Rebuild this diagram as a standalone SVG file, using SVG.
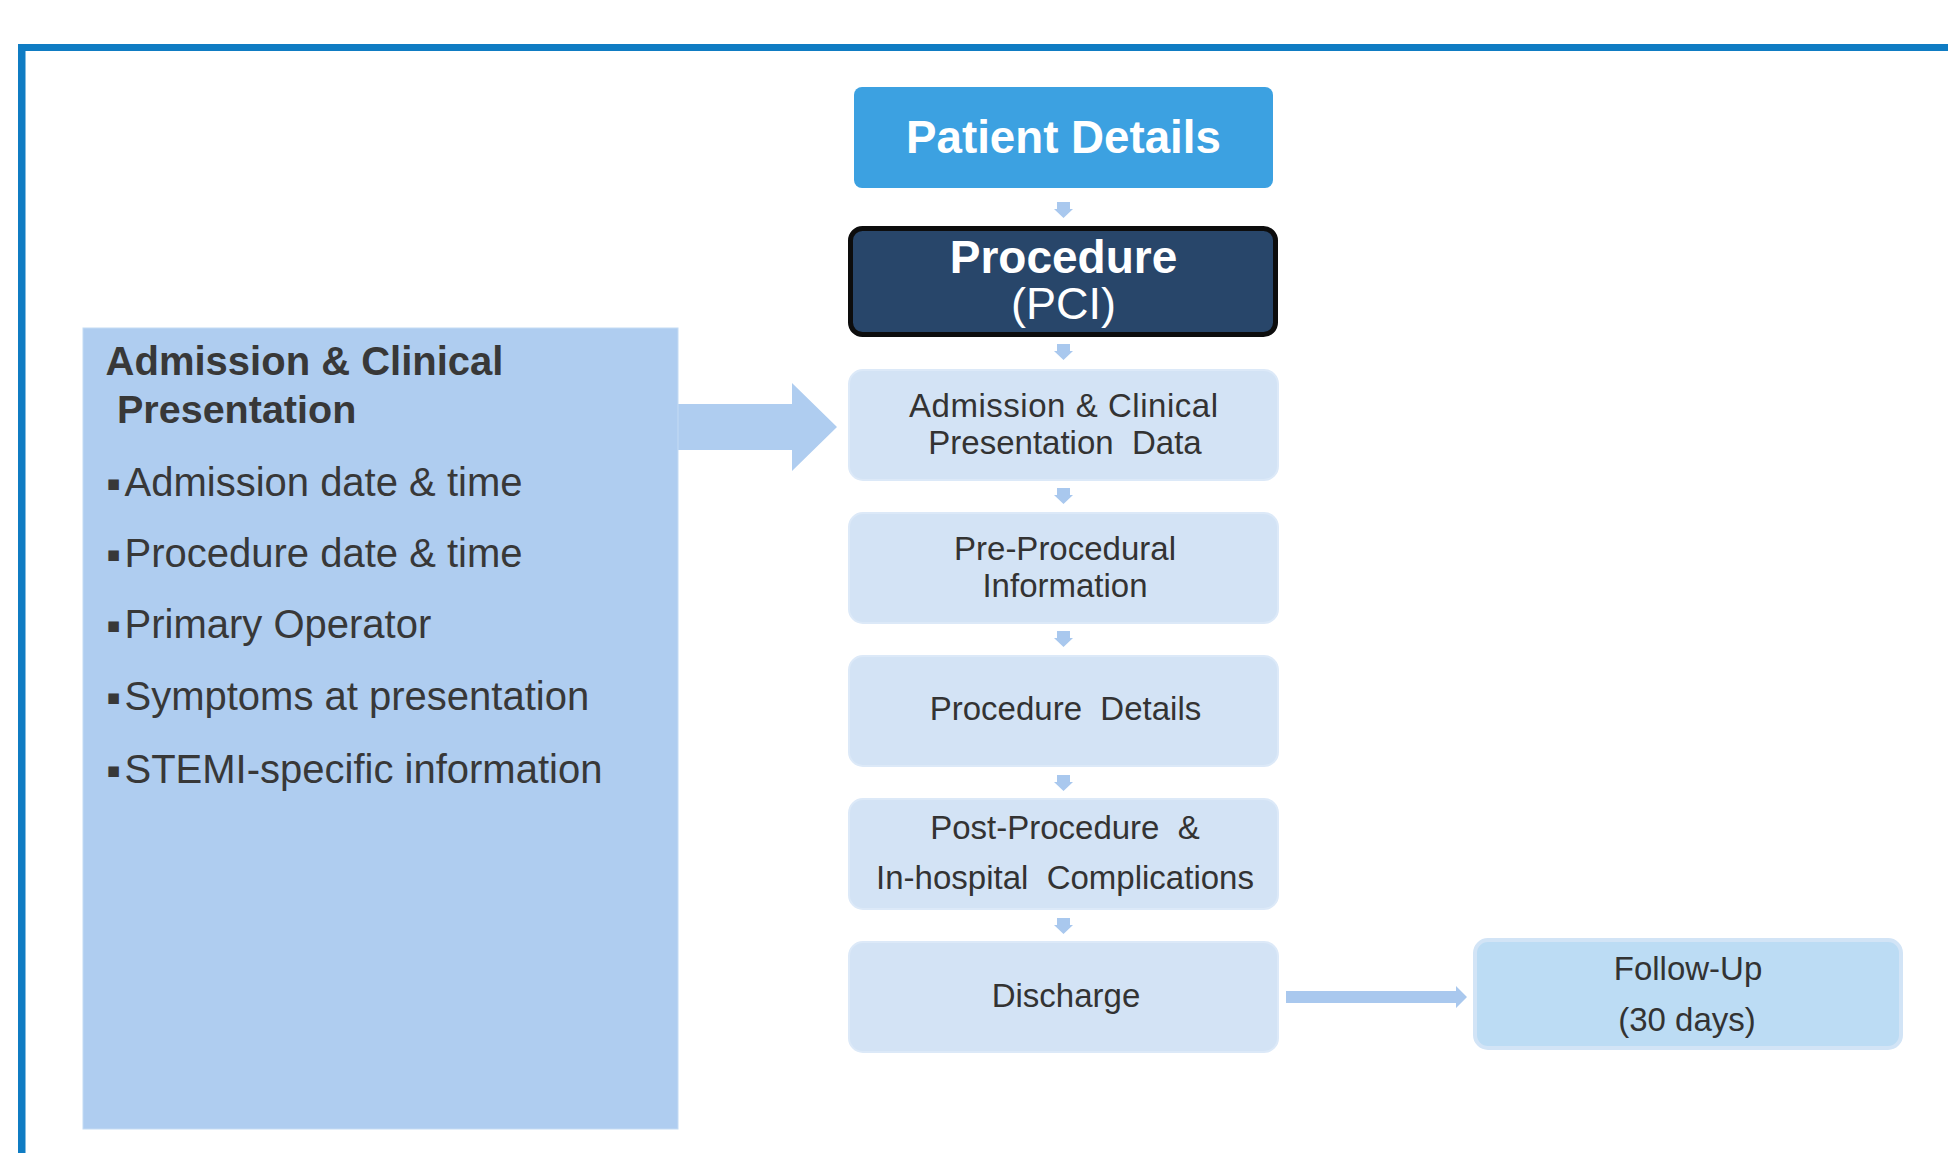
<svg xmlns="http://www.w3.org/2000/svg" width="1948" height="1153" viewBox="0 0 1948 1153">
<style>
.lt{fill:#d3e3f5;stroke:#dce9f8;stroke-width:2}
.ct{font-family:"Liberation Sans",Arial,sans-serif;font-size:33px;fill:#333333;text-anchor:middle}
.lp{font-family:"Liberation Sans",Arial,sans-serif;font-size:40px;fill:#383838}
.lpb{font-family:"Liberation Sans",Arial,sans-serif;font-weight:bold;fill:#383838}
.bul{font-family:"DejaVu Sans",sans-serif;font-size:21px;fill:#383838}
.arr{fill:#a9c8ee}
</style>
<defs>
<path id="dn" d="M-6.5,0 H6.5 V7 H9.5 L0,16 L-9.5,7 H-6.5 Z"/>
</defs>
<rect width="1948" height="1153" fill="#ffffff"/>
<g id="frame" fill="#0f7cc3">
<rect x="18" y="44" width="1930" height="7"/>
<rect x="18" y="44" width="7.5" height="1109"/>
</g>
<g id="connectors">
<path d="M677,404 H792 V383 L837,427 L792,471 V450 H677 Z" fill="#afcdf0"/>
<g class="arr">
<use href="#dn" x="1063.5" y="202"/>
<use href="#dn" x="1063.5" y="344"/>
<use href="#dn" x="1063.5" y="488"/>
<use href="#dn" x="1063.5" y="631"/>
<use href="#dn" x="1063.5" y="775"/>
<use href="#dn" x="1063.5" y="918"/>
<path d="M1286,991 H1456 V986 L1467,997 L1456,1008 V1003 H1286 Z"/>
</g>
</g>
<g id="left-panel">
<rect x="83" y="328" width="595" height="801" fill="#afcdf0" stroke="#c4dbf4" stroke-width="1"/>
<text class="lpb" x="105.6" y="375" font-size="40">Admission &amp; Clinical</text>
<text class="lpb" x="117" y="423" font-size="39.5">Presentation</text>
<text class="bul" x="106.5" y="490">▪</text>
<text class="lp" x="124.5" y="496">Admission date &amp; time</text>
<text class="bul" x="106.5" y="561">▪</text>
<text class="lp" x="124.5" y="567">Procedure date &amp; time</text>
<text class="bul" x="106.5" y="632">▪</text>
<text class="lp" x="124.5" y="638">Primary Operator</text>
<text class="bul" x="106.5" y="704">▪</text>
<text class="lp" x="124.5" y="710">Symptoms at presentation</text>
<text class="bul" x="106.5" y="777">▪</text>
<text class="lp" x="124.5" y="783">STEMI-specific information</text>
</g>
<g id="patient-details">
<rect x="854" y="87" width="419" height="101" rx="8" fill="#3ca1e1"/>
<text x="1063.5" y="153" font-family="Liberation Sans,Arial,sans-serif" font-weight="bold" font-size="45.7" fill="#ffffff" text-anchor="middle">Patient Details</text>
</g>
<g id="procedure">
<rect x="850.5" y="228.5" width="425" height="106" rx="12" fill="#28466a" stroke="#0d0d0d" stroke-width="5"/>
<text x="1063.5" y="273" font-family="Liberation Sans,Arial,sans-serif" font-weight="bold" font-size="46" fill="#ffffff" text-anchor="middle">Procedure</text>
<text x="1063.5" y="319" font-family="Liberation Sans,Arial,sans-serif" font-size="45" fill="#ffffff" text-anchor="middle">(PCI)</text>
</g>
<g id="admission-data">
<rect class="lt" x="849" y="370" width="429" height="110" rx="14"/>
<text class="ct" x="1063.5" y="417" textLength="309" lengthAdjust="spacing">Admission &amp; Clinical</text>
<text class="ct" x="1065" y="454" xml:space="preserve">Presentation  Data</text>
</g>
<g id="pre-procedural">
<rect class="lt" x="849" y="513" width="429" height="110" rx="14"/>
<text class="ct" x="1065" y="560">Pre-Procedural</text>
<text class="ct" x="1065" y="597">Information</text>
</g>
<g id="procedure-details">
<rect class="lt" x="849" y="656" width="429" height="110" rx="14"/>
<text class="ct" x="1065.5" y="720" xml:space="preserve">Procedure  Details</text>
</g>
<g id="post-procedure">
<rect class="lt" x="849" y="799" width="429" height="110" rx="14"/>
<text class="ct" x="1065" y="839" xml:space="preserve">Post-Procedure  &amp;</text>
<text class="ct" x="1065" y="889" xml:space="preserve">In-hospital  Complications</text>
</g>
<g id="discharge">
<rect class="lt" x="849" y="942" width="429" height="110" rx="14"/>
<text class="ct" x="1066" y="1007">Discharge</text>
</g>
<g id="follow-up">
<rect x="1475" y="940" width="426" height="108" rx="13" fill="#bcdcf4" stroke="#d2e4f6" stroke-width="4"/>
<text class="ct" x="1688" y="980">Follow-Up</text>
<text class="ct" x="1687" y="1031">(30 days)</text>
</g>
</svg>
